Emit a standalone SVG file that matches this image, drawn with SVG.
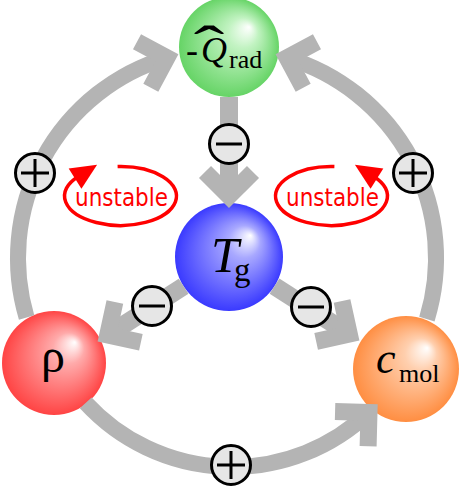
<svg xmlns="http://www.w3.org/2000/svg" width="460" height="489" viewBox="0 0 460 489">
<style>
.ring{fill:none;stroke:#b4b4b4;stroke-width:16}
.shaft{fill:none;stroke:#b4b4b4;stroke-width:18}
.sign circle{fill:#e6e6e6;stroke:#000;stroke-width:3}
.sign path{fill:none;stroke:#000;stroke-width:3}
.loop{fill:none;stroke:#ff0000;stroke-width:3.5}
.unst{font-family:"DejaVu Sans",sans-serif;font-size:24px;fill:#ff0000}
.lab{font-family:"Liberation Serif","Times New Roman",serif;fill:#000}
</style>
<defs>
<radialGradient id="gGreen" cx=".5" cy=".5" r=".5" fx=".7" fy=".3">
<stop offset="0" stop-color="#ffffff"/><stop offset=".3" stop-color="#c2f3c2"/><stop offset="1" stop-color="#66d466"/>
</radialGradient>
<radialGradient id="gBlue" cx=".5" cy=".5" r=".5" fx=".7" fy=".3">
<stop offset="0" stop-color="#ffffff"/><stop offset=".3" stop-color="#a8a8ff"/><stop offset="1" stop-color="#3a3aff"/>
</radialGradient>
<radialGradient id="gRed" cx=".5" cy=".5" r=".5" fx=".7" fy=".3">
<stop offset="0" stop-color="#ffffff"/><stop offset=".3" stop-color="#ffaaaa"/><stop offset="1" stop-color="#ff4444"/>
</radialGradient>
<radialGradient id="gOrange" cx=".5" cy=".5" r=".5" fx=".7" fy=".3">
<stop offset="0" stop-color="#ffffff"/><stop offset=".3" stop-color="#ffcfae"/><stop offset="1" stop-color="#ff8e42"/>
</radialGradient>
<marker id="chev" markerUnits="userSpaceOnUse" orient="auto" refX="0" refY="0" markerWidth="80" markerHeight="80" viewBox="-40 -40 80 80" overflow="visible">
<polyline points="-24,-24 0,0 -24,24" fill="none" stroke="#b4b4b4" stroke-width="17" stroke-linejoin="miter"/>
</marker>
<marker id="redhead" markerUnits="userSpaceOnUse" orient="auto" refX="0" refY="0" markerWidth="40" markerHeight="40" viewBox="-20 -20 40 40" overflow="visible">
<path d="M-3,-12 L23,0 L-3,12 Z" fill="#ff0000"/>
</marker>
</defs>

<g id="node-Qrad">
<circle cx="229" cy="47" r="50" fill="url(#gGreen)"/>
<text class="lab" x="186" y="62" font-size="36">-</text>
<text class="lab" x="201" y="62" font-size="36" font-style="italic">Q</text>
<text class="lab" transform="translate(209,64) scale(1.7,1)" font-size="54" text-anchor="middle">ˆ</text>
<text class="lab" x="229" y="68" font-size="26">rad</text>
</g>
<g id="node-Tg">
<circle cx="229" cy="257" r="54" fill="url(#gBlue)"/>
<text class="lab" x="211" y="272" font-size="50" font-style="italic">T</text>
<text class="lab" x="234" y="281" font-size="33">g</text>
</g>
<g id="node-rho">
<circle cx="54" cy="363" r="52" fill="url(#gRed)"/>
<text class="lab" x="53" y="372" font-size="48" text-anchor="middle">ρ</text>
</g>
<g id="node-cmol">
<circle cx="406" cy="369" r="53" fill="url(#gOrange)"/>
<text class="lab" x="376" y="373" font-size="44" font-style="italic">c</text>
<text class="lab" x="399" y="382" font-size="26">mol</text>
</g>

<g id="connectors">
<path class="ring" d="M26.6,317.4 A209,209 0 0 1 166.9,57.8" marker-end="url(#chev)"/>
<path class="ring" d="M426.9,319.1 A209,209 0 0 0 287.1,57.8" marker-end="url(#chev)"/>
<path class="ring" d="M85.7,402.9 A199,199 0 0 0 369,412.4" marker-end="url(#chev)"/>
<path class="shaft" d="M229,97 L229,196" marker-end="url(#chev)"/>
<path class="shaft" d="M183.6,286.2 L107.7,335.1" marker-end="url(#chev)"/>
<path class="shaft" d="M274.5,286.2 L349.3,334.1" marker-end="url(#chev)"/>
<g class="sign" id="sign-rho-Q"><circle cx="35" cy="173" r="19.5"/><path d="M21,173 H49 M35,159 V187"/></g>
<g class="sign" id="sign-cmol-Q"><circle cx="413" cy="173" r="19.5"/><path d="M399,173 H427 M413,159 V187"/></g>
<g class="sign" id="sign-rho-cmol"><circle cx="231" cy="465" r="19.5"/><path d="M217,465 H245 M231,451 V479"/></g>
<g class="sign" id="sign-Q-T"><circle cx="229" cy="144" r="19.5"/><path d="M216,144 H242"/></g>
<g class="sign" id="sign-T-rho"><circle cx="152" cy="306" r="19.5"/><path d="M139,306 H165"/></g>
<g class="sign" id="sign-T-cmol"><circle cx="311" cy="307" r="19.5"/><path d="M298,307 H324"/></g>
</g>

<g id="loop-left">
<path class="loop" d="M117.6,166.5 A56,29.5 0 1 1 77.6,177" marker-end="url(#redhead)"/>
<text class="unst" x="75" y="206" textLength="93" lengthAdjust="spacingAndGlyphs">unstable</text>
</g>
<g id="loop-right">
<path class="loop" d="M334.4,166.5 A56,29.5 0 1 0 374.4,177" marker-end="url(#redhead)"/>
<text class="unst" x="286" y="206" textLength="93" lengthAdjust="spacingAndGlyphs">unstable</text>
</g>
</svg>
